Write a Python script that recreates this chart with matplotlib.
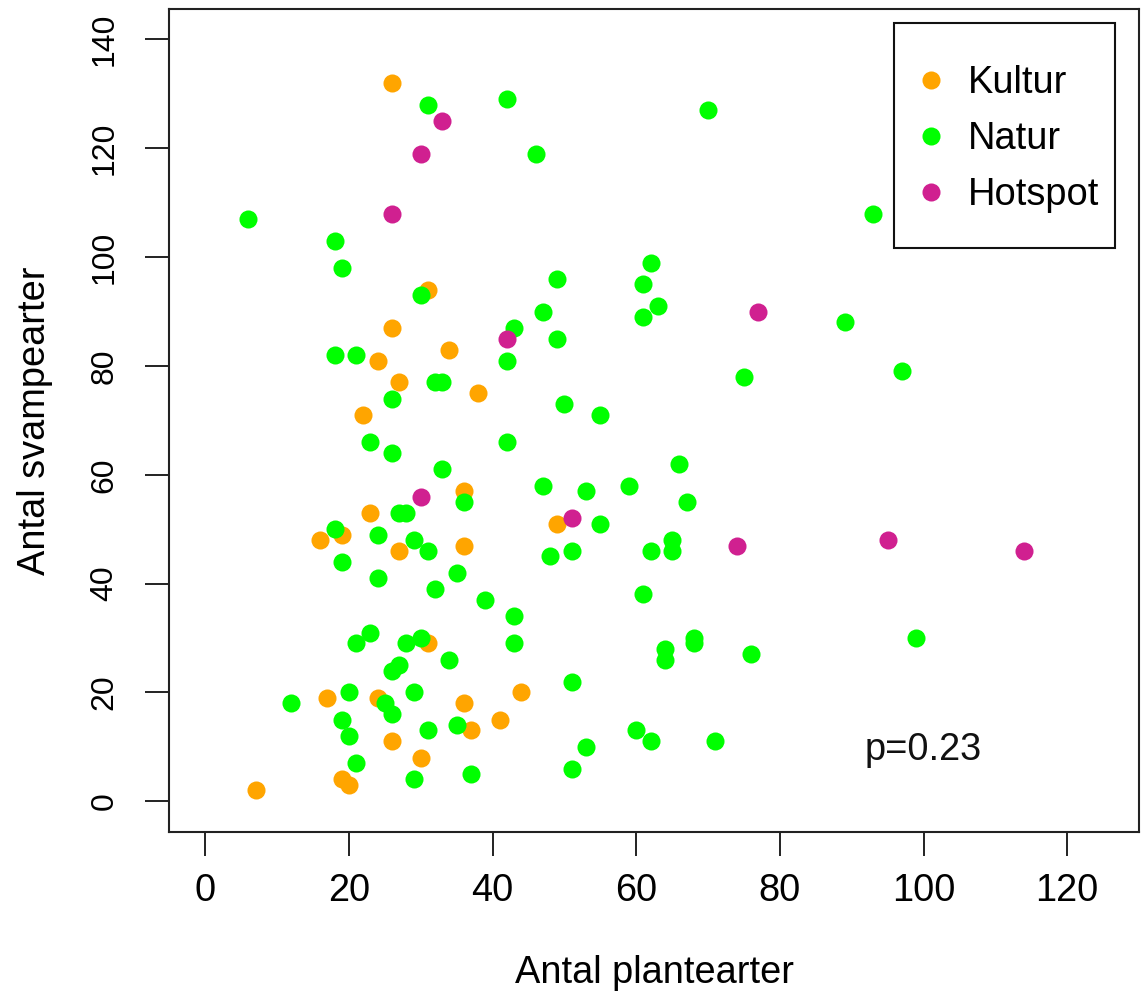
import matplotlib
matplotlib.use("Agg")
import matplotlib.pyplot as plt
from matplotlib.patches import Rectangle

plt.rcParams["font.family"] = ["Liberation Sans", "DejaVu Sans"]

# Kultur
kultur_x = [26, 31, 26, 34, 24, 27, 38, 22, 36, 23, 49, 19, 16, 27, 36,
            31, 17, 24, 36, 44, 41, 37, 26, 30, 19, 20, 7]
kultur_y = [132, 94, 87, 83, 81, 77, 75, 71, 57, 53, 51, 49, 48, 46, 47,
            29, 19, 19, 18, 20, 15, 13, 11, 8, 4, 3, 2]

# Natur
natur_x = [31, 42, 46, 6, 18, 19, 49, 30, 47, 43, 49, 18, 21, 42, 32, 33,
           26, 50, 23, 26, 42, 33, 47, 53, 36, 27, 28, 18, 24, 29, 31, 48,
           51, 19, 24, 35, 32, 39, 43, 23, 21, 28, 30, 43, 34, 27, 26, 51,
           12, 20, 25, 26, 29, 19, 20, 31, 35, 53, 21, 51, 29, 37,
           70, 93, 62, 61, 63, 61, 89, 75, 97, 55, 66, 59, 67, 55, 65, 65,
           62, 61, 68, 68, 64, 64, 76, 99, 60, 62, 71]
natur_y = [128, 129, 119, 107, 103, 98, 96, 93, 90, 87, 85, 82, 82, 81, 77, 77,
           74, 73, 66, 64, 66, 61, 58, 57, 55, 53, 53, 50, 49, 48, 46, 45,
           46, 44, 41, 42, 39, 37, 34, 31, 29, 29, 30, 29, 26, 25, 24, 22,
           18, 20, 18, 16, 20, 15, 12, 13, 14, 10, 7, 6, 4, 5,
           127, 108, 99, 95, 91, 89, 88, 78, 79, 71, 62, 58, 55, 51, 48, 46,
           46, 38, 30, 29, 28, 26, 27, 30, 13, 11, 11]

# Hotspot
hotspot_x = [33, 30, 26, 42, 77, 30, 51, 74, 95, 114]
hotspot_y = [125, 119, 108, 85, 90, 56, 52, 47, 48, 46]

groups = ["Kultur", "Natur", "Hotspot"]
colors = ["#FFA500", "#00FF00", "#D02090"]

x_ticks = [0, 20, 40, 60, 80, 100, 120]
y_ticks = [0, 20, 40, 60, 80, 100, 120, 140]

fig = plt.figure(figsize=(11.41, 9.92), dpi=100)
ax = fig.add_axes([0.1484, 0.1616, 0.8499, 0.8293])

data = [(kultur_x, kultur_y), (natur_x, natur_y), (hotspot_x, hotspot_y)]
for (xs, ys), name, col in zip(data, groups, colors):
    ax.plot(xs, ys, "o", color=col, markersize=13, markeredgewidth=0,
            label=name, linestyle="none")

ax.set_xlim(-5, 130)
ax.set_ylim(-5.6, 145.6)
ax.set_xticks(x_ticks)
ax.set_yticks(y_ticks)

for sp in ax.spines.values():
    sp.set_linewidth(1.5)
    sp.set_color("#222222")

ax.tick_params(axis="both", direction="out", length=17, width=1.4,
               color="#222222")
ax.tick_params(axis="x", labelsize=27.4, pad=13)
ax.tick_params(axis="y", labelsize=23, pad=19, labelrotation=90)
for lab in ax.get_yticklabels():
    lab.set_verticalalignment("center")

ax.set_xlabel("Antal plantearter", fontsize=27.4, labelpad=33)
ax.set_ylabel("Antal svampearter", fontsize=27.4, labelpad=26)

ax.text(100, 9.4, "p=0.23", fontsize=27.4, ha="center", va="center",
        color="#111111")

# legend without its own frame, box drawn separately
leg = ax.legend(loc="upper left", bbox_to_anchor=(0.7659, 0.9319),
                borderaxespad=0, borderpad=0, frameon=False,
                fontsize=27.4, handlelength=1.0, handletextpad=0.46,
                labelspacing=0.53)
ax.add_patch(Rectangle((0.7477, 0.7099), 0.2271, 0.2727,
                       transform=ax.transAxes, fill=False,
                       edgecolor="#111111", linewidth=1.5, zorder=5))

fig.savefig("out.png", dpi=100)
